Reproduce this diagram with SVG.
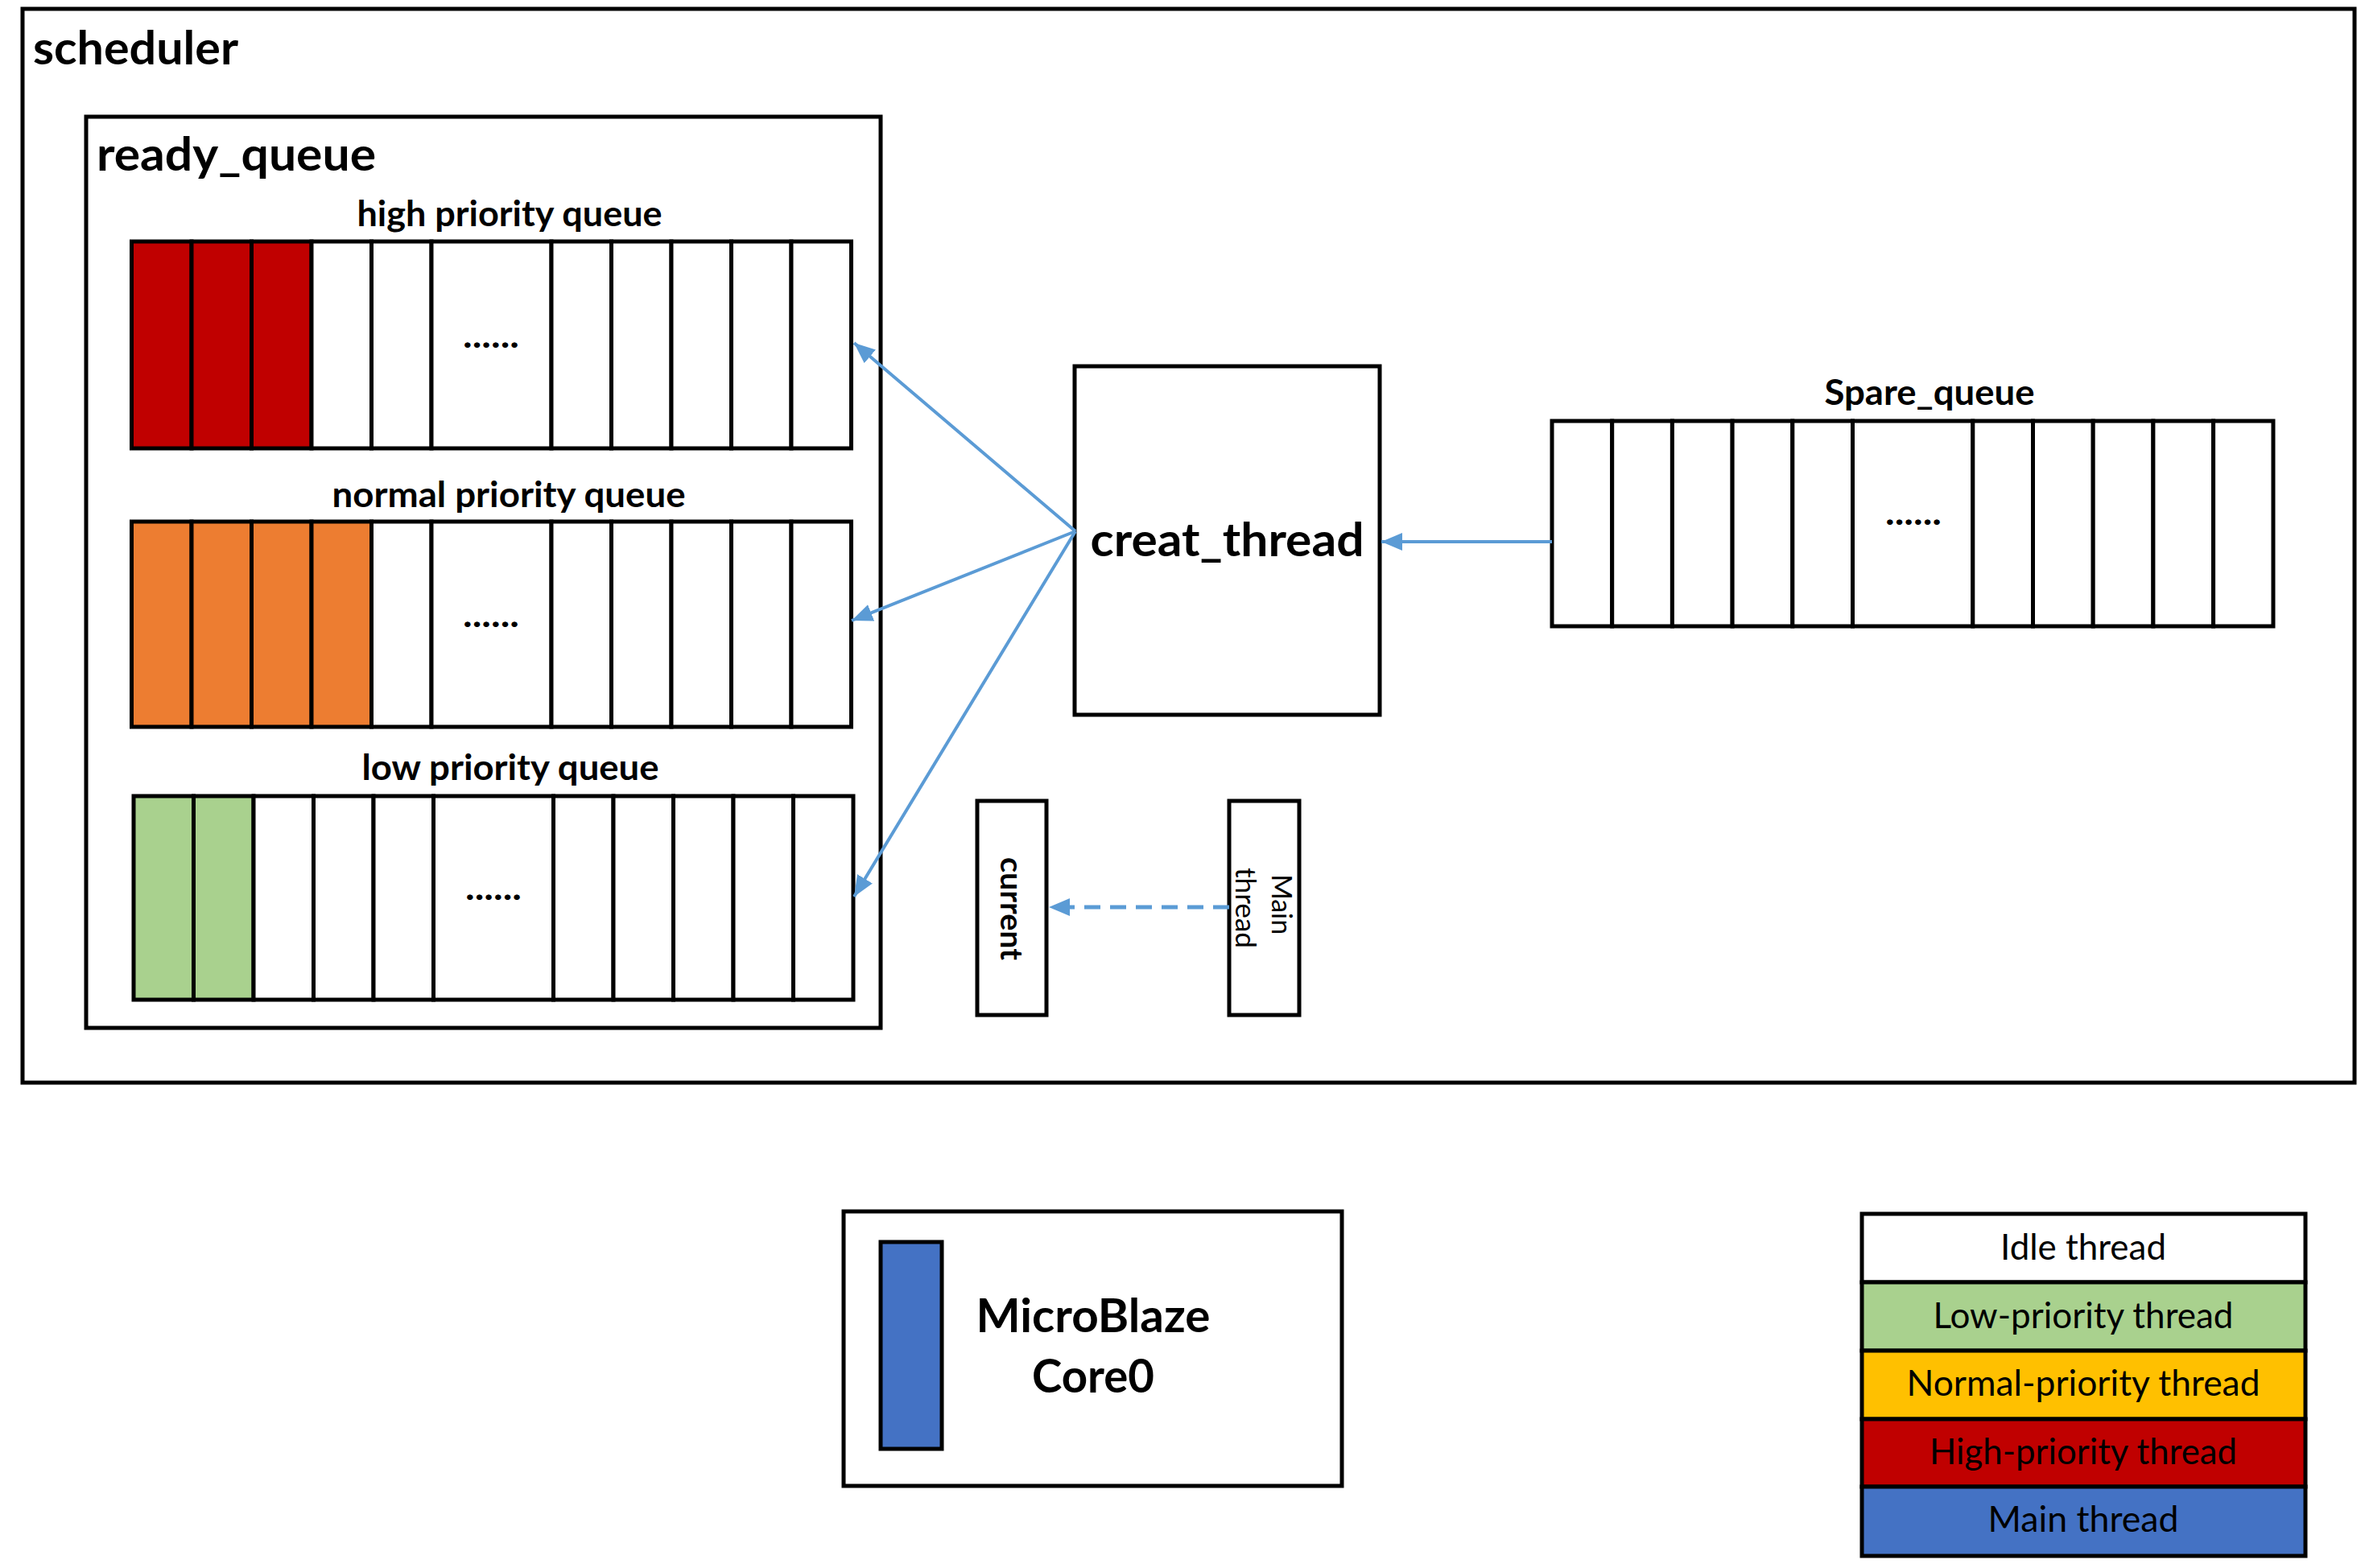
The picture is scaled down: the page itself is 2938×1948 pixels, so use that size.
<svg xmlns="http://www.w3.org/2000/svg" width="2938" height="1948" viewBox="0 0 2938 1948">
<defs>
<style>
.box{fill:#fff;stroke:#000;stroke-width:5}
.cell{fill:#fff;stroke:#000;stroke-width:5}
.red{fill:#C00000}
.org{fill:#ED7D31}
.grn{fill:#A9D18E}
.yel{fill:#FFC000}
.blu{fill:#4472C4}
.t{font-family:Lato,"Open Sans","Liberation Sans",sans-serif;fill:#000}
.b{font-weight:bold}
.big{font-size:57px}
.mid{font-size:43px}
.leg{font-size:44px}
.conn{fill:none;stroke:#5B9BD5;stroke-width:4}
.dash{stroke-dasharray:20 12;stroke-width:5}
</style>
<marker id="ah" viewBox="0 0 26 22" markerWidth="26" markerHeight="22" refX="26" refY="11" orient="auto" markerUnits="userSpaceOnUse">
<path d="M0,0 L26,11 L0,22 z" fill="#5B9BD5"/>
</marker>
</defs>
<rect width="2938" height="1948" fill="#fff"/>

<g id="scheduler">
<rect class="box" x="28" y="11" width="2897" height="1334"/>
<text class="t b big" x="41" y="80" textLength="255" lengthAdjust="spacingAndGlyphs">scheduler</text>
</g>

<g id="ready_queue">
<rect class="box" x="107" y="145" width="987" height="1132"/>
<text class="t b big" x="120" y="212" textLength="347" lengthAdjust="spacingAndGlyphs">ready_queue</text>
</g>

<g id="high_priority_queue">
<text class="t b mid" x="633" y="281" text-anchor="middle" textLength="379" lengthAdjust="spacingAndGlyphs">high priority queue</text>
<rect class="cell red" x="163.5" y="300" width="74.5" height="257"/>
<rect class="cell red" x="238" y="300" width="74.5" height="257"/>
<rect class="cell red" x="312.5" y="300" width="74.5" height="257"/>
<rect class="cell" x="387" y="300" width="74.5" height="257"/>
<rect class="cell" x="461.5" y="300" width="74.5" height="257"/>
<rect class="cell" x="536" y="300" width="149" height="257"/>
<rect class="cell" x="685" y="300" width="74.5" height="257"/>
<rect class="cell" x="759.5" y="300" width="74.5" height="257"/>
<rect class="cell" x="834" y="300" width="74.5" height="257"/>
<rect class="cell" x="908.5" y="300" width="74.5" height="257"/>
<rect class="cell" x="983" y="300" width="74.5" height="257"/>
<text class="t b mid" x="610" y="432" text-anchor="middle" textLength="70" lengthAdjust="spacingAndGlyphs">......</text>
</g>

<g id="normal_priority_queue">
<text class="t b mid" x="632" y="630" text-anchor="middle" textLength="439" lengthAdjust="spacingAndGlyphs">normal priority queue</text>
<rect class="cell org" x="163.5" y="648" width="74.5" height="255"/>
<rect class="cell org" x="238" y="648" width="74.5" height="255"/>
<rect class="cell org" x="312.5" y="648" width="74.5" height="255"/>
<rect class="cell org" x="387" y="648" width="74.5" height="255"/>
<rect class="cell" x="461.5" y="648" width="74.5" height="255"/>
<rect class="cell" x="536" y="648" width="149" height="255"/>
<rect class="cell" x="685" y="648" width="74.5" height="255"/>
<rect class="cell" x="759.5" y="648" width="74.5" height="255"/>
<rect class="cell" x="834" y="648" width="74.5" height="255"/>
<rect class="cell" x="908.5" y="648" width="74.5" height="255"/>
<rect class="cell" x="983" y="648" width="74.5" height="255"/>
<text class="t b mid" x="610" y="779" text-anchor="middle" textLength="70" lengthAdjust="spacingAndGlyphs">......</text>
</g>

<g id="low_priority_queue">
<text class="t b mid" x="634" y="969" text-anchor="middle" textLength="369" lengthAdjust="spacingAndGlyphs">low priority queue</text>
<rect class="cell grn" x="166" y="989" width="74.5" height="253"/>
<rect class="cell grn" x="240.5" y="989" width="74.5" height="253"/>
<rect class="cell" x="315" y="989" width="74.5" height="253"/>
<rect class="cell" x="389.5" y="989" width="74.5" height="253"/>
<rect class="cell" x="464" y="989" width="74.5" height="253"/>
<rect class="cell" x="538.5" y="989" width="149" height="253"/>
<rect class="cell" x="687.5" y="989" width="74.5" height="253"/>
<rect class="cell" x="762" y="989" width="74.5" height="253"/>
<rect class="cell" x="836.5" y="989" width="74.5" height="253"/>
<rect class="cell" x="911" y="989" width="74.5" height="253"/>
<rect class="cell" x="985.5" y="989" width="74.5" height="253"/>
<text class="t b mid" x="613" y="1118" text-anchor="middle" textLength="70" lengthAdjust="spacingAndGlyphs">......</text>
</g>

<g id="creat_thread">
<rect class="box" x="1335" y="455" width="379" height="433"/>
<text class="t b big" x="1524.5" y="691" text-anchor="middle" textLength="340" lengthAdjust="spacingAndGlyphs">creat_thread</text>
</g>

<g id="spare_queue">
<text class="t b mid" x="2397" y="503" text-anchor="middle" textLength="261" lengthAdjust="spacingAndGlyphs">Spare_queue</text>
<rect class="cell" x="1928" y="523" width="74.7" height="255"/>
<rect class="cell" x="2002.7" y="523" width="74.7" height="255"/>
<rect class="cell" x="2077.4" y="523" width="74.7" height="255"/>
<rect class="cell" x="2152.1" y="523" width="74.7" height="255"/>
<rect class="cell" x="2226.8" y="523" width="74.7" height="255"/>
<rect class="cell" x="2301.5" y="523" width="149.3" height="255"/>
<rect class="cell" x="2450.8" y="523" width="74.7" height="255"/>
<rect class="cell" x="2525.5" y="523" width="74.7" height="255"/>
<rect class="cell" x="2600.2" y="523" width="74.7" height="255"/>
<rect class="cell" x="2674.9" y="523" width="74.7" height="255"/>
<rect class="cell" x="2749.6" y="523" width="74.4" height="255"/>
<text class="t b mid" x="2377" y="652" text-anchor="middle" textLength="70" lengthAdjust="spacingAndGlyphs">......</text>
</g>

<g id="current">
<rect class="box" x="1214" y="995" width="86" height="266"/>
<text class="t b" font-size="38" transform="translate(1257,1129) rotate(90)" x="0" y="14" text-anchor="middle" textLength="128" lengthAdjust="spacingAndGlyphs">current</text>
</g>

<g id="main_thread">
<rect class="box" x="1527" y="995" width="87" height="266"/>
<text class="t" font-size="34" transform="translate(1570,1128) rotate(90)" text-anchor="middle">
<tspan x="0" y="-10" textLength="75" lengthAdjust="spacingAndGlyphs">Main</tspan>
<tspan x="0" y="35" textLength="100" lengthAdjust="spacingAndGlyphs">thread</tspan>
</text>
</g>

<g id="microblaze_core0">
<rect class="box" x="1048" y="1505" width="619" height="341"/>
<rect class="cell blu" x="1094" y="1543" width="76" height="257"/>
<text class="t b big" x="1358" y="1655" text-anchor="middle" textLength="291" lengthAdjust="spacingAndGlyphs">MicroBlaze</text>
<text class="t b big" x="1358" y="1730" text-anchor="middle" textLength="152" lengthAdjust="spacingAndGlyphs">Core0</text>
</g>

<g id="legend">
<rect class="cell" x="2313" y="1508" width="551" height="85"/>
<rect class="cell grn" x="2313" y="1593" width="551" height="85"/>
<rect class="cell yel" x="2313" y="1678" width="551" height="85"/>
<rect class="cell red" x="2313" y="1763" width="551" height="84"/>
<rect class="cell blu" x="2313" y="1847" width="551" height="86"/>
<text class="t leg" x="2588" y="1565" text-anchor="middle" textLength="206" lengthAdjust="spacingAndGlyphs">Idle thread</text>
<text class="t leg" x="2588" y="1650" text-anchor="middle" textLength="373" lengthAdjust="spacingAndGlyphs">Low-priority thread</text>
<text class="t leg" x="2588" y="1734" text-anchor="middle" textLength="439" lengthAdjust="spacingAndGlyphs">Normal-priority thread</text>
<text class="t leg" x="2588" y="1819" text-anchor="middle" textLength="382" lengthAdjust="spacingAndGlyphs">High-priority thread</text>
<text class="t leg" x="2588" y="1903" text-anchor="middle" textLength="237" lengthAdjust="spacingAndGlyphs">Main thread</text>
</g>

<g id="connectors">
<path class="conn" d="M1336,660 L1061,426" marker-end="url(#ah)"/>
<path class="conn" d="M1336,660 L1058,771" marker-end="url(#ah)"/>
<path class="conn" d="M1336,660 L1061,1114" marker-end="url(#ah)"/>
<path class="conn" d="M1928,673 L1716,673" marker-end="url(#ah)"/>
<path class="conn dash" d="M1527,1127 L1303,1127" marker-end="url(#ah)"/>
</g>
</svg>
